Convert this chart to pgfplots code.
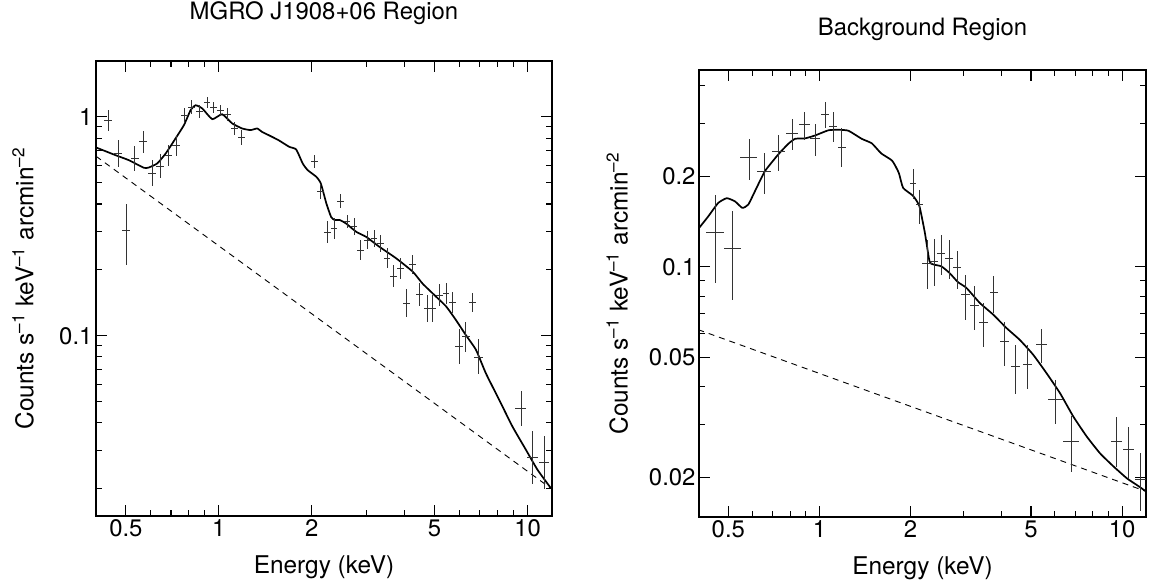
\documentclass[border=0pt]{standalone}
\usepackage{pgfplots}
\pgfplotsset{compat=1.18}
\usepackage{pgfplotstable}
\usepackage{fontspec}
\setmainfont{TeX Gyre Heros}

\pgfplotstableread{
E v ex ep em
0.439 0.959 0.030 0.117 0.105
0.471 0.681 0.030 0.156 0.135
0.501 0.304 0.030 0.310 0.310
0.534 0.646 0.030 0.145 0.126
0.568 0.769 0.030 0.121 0.108
0.607 0.552 0.030 0.145 0.126
0.646 0.596 0.030 0.130 0.115
0.688 0.668 0.028 0.117 0.105
0.728 0.738 0.028 0.112 0.101
0.774 1.018 0.025 0.081 0.075
0.814 1.110 0.025 0.072 0.067
0.866 1.054 0.025 0.072 0.067
0.915 1.163 0.025 0.059 0.056
0.963 1.104 0.025 0.059 0.056
1.013 1.073 0.025 0.059 0.056
1.065 1.025 0.025 0.067 0.062
1.124 0.885 0.025 0.072 0.067
1.182 0.805 0.025 0.084 0.077
2.04 0.623 0.025 0.072 0.067
2.14 0.455 0.025 0.081 0.075
2.25 0.298 0.025 0.122 0.109
2.36 0.309 0.025 0.112 0.101
2.48 0.413 0.025 0.081 0.075
2.60 0.332 0.025 0.072 0.067
2.74 0.315 0.025 0.096 0.088
2.87 0.246 0.025 0.114 0.102
3.02 0.274 0.025 0.104 0.094
3.18 0.278 0.025 0.091 0.084
3.34 0.264 0.025 0.096 0.088
3.51 0.226 0.025 0.112 0.101
3.68 0.187 0.025 0.122 0.109
3.87 0.203 0.025 0.114 0.102
4.06 0.141 0.025 0.161 0.139
4.25 0.211 0.025 0.104 0.094
4.46 0.154 0.025 0.127 0.113
4.72 0.133 0.025 0.148 0.129
4.93 0.133 0.025 0.148 0.129
5.18 0.153 0.025 0.122 0.109
5.45 0.156 0.025 0.114 0.102
5.72 0.142 0.025 0.112 0.101
6.01 0.089 0.030 0.202 0.168
6.31 0.099 0.030 0.169 0.145
6.64 0.142 0.025 0.102 0.092
6.94 0.080 0.030 0.202 0.168
9.52 0.0463 0.040 0.202 0.168
10.4 0.0277 0.040 0.318 0.241
11.3 0.0263 0.035 0.318 0.241
}\srcdata

\pgfplotstableread{
E v
0.400 0.725
0.463 0.668
0.511 0.634
0.572 0.585
0.593 0.587
0.632 0.613
0.673 0.681
0.724 0.797
0.771 0.917
0.810 1.073
0.841 1.130
0.884 1.092
0.952 0.976
1.025 1.028
1.105 0.933
1.190 0.885
1.267 0.870
1.331 0.885
1.380 0.854
1.450 0.825
1.560 0.783
1.690 0.730
1.780 0.710
1.870 0.612
1.940 0.571
2.070 0.532
2.140 0.496
2.230 0.402
2.310 0.349
2.370 0.338
2.460 0.338
2.580 0.326
2.790 0.298
3.000 0.283
3.310 0.255
3.750 0.226
4.250 0.196
4.570 0.173
5.050 0.151
5.450 0.136
5.860 0.118
6.310 0.1007
6.810 0.0861
7.330 0.0673
8.100 0.0508
8.940 0.0384
9.880 0.0301
10.77 0.0244
11.90 0.0201
}\srcmodel

\pgfplotstableread{
E v
0.400 0.661
12.0 0.0199
}\srcpl

\pgfplotstableread{
E v ex ep em
0.452 0.130 0.070 0.33 0.32
0.516 0.1156 0.065 0.33 0.33
0.585 0.231 0.065 0.15 0.16
0.658 0.208 0.055 0.15 0.16
0.732 0.242 0.050 0.13 0.14
0.814 0.277 0.045 0.12 0.12
0.892 0.297 0.040 0.10 0.11
0.968 0.266 0.035 0.12 0.12
1.044 0.321 0.030 0.10 0.10
1.113 0.292 0.030 0.12 0.11
1.186 0.250 0.030 0.16 0.14
2.04 0.189 0.025 0.12 0.11
2.14 0.161 0.025 0.12 0.14
2.27 0.103 0.035 0.19 0.18
2.39 0.1045 0.030 0.18 0.17
2.53 0.111 0.030 0.15 0.15
2.68 0.107 0.030 0.15 0.15
2.85 0.0993 0.030 0.14 0.15
3.04 0.081 0.032 0.16 0.18
3.26 0.0745 0.032 0.16 0.17
3.49 0.0652 0.032 0.16 0.17
3.77 0.082 0.032 0.14 0.14
4.08 0.0566 0.035 0.16 0.17
4.44 0.0468 0.035 0.18 0.19
4.87 0.0474 0.035 0.16 0.17
5.42 0.0552 0.040 0.13 0.13
6.03 0.0364 0.055 0.16 0.17
6.78 0.0264 0.060 0.21 0.21
9.60 0.0264 0.045 0.20 0.18
10.5 0.0248 0.040 0.19 0.20
11.5 0.0198 0.040 0.22 0.22
}\bkgdata

\pgfplotstableread{
E v
0.398 0.1337
0.429 0.147
0.463 0.163
0.494 0.169
0.526 0.165
0.556 0.157
0.582 0.161
0.620 0.183
0.661 0.208
0.731 0.236
0.789 0.256
0.831 0.266
0.897 0.267
0.968 0.273
1.071 0.284
1.156 0.285
1.247 0.283
1.380 0.266
1.490 0.257
1.600 0.238
1.740 0.225
1.830 0.205
1.890 0.183
2.040 0.172
2.140 0.159
2.230 0.130
2.310 0.1045
2.370 0.102
2.530 0.1004
2.690 0.0955
2.870 0.089
3.060 0.0852
3.390 0.0759
3.750 0.0695
4.150 0.0627
4.590 0.0573
5.080 0.0512
5.630 0.0444
6.240 0.0381
6.900 0.0319
7.640 0.0274
8.450 0.0241
9.360 0.0218
10.37 0.0199
11.19 0.0189
12.00 0.0180
}\bkgmodel

\pgfplotstableread{
E v
0.398 0.0619
12.0 0.0180
}\bkgpl

\begin{document}
\begin{tikzpicture}
\path[use as bounding box] (0,0) rectangle (1151bp,-588bp);
\begin{axis}[at={(96bp,-61bp)}, anchor=north west, scale only axis, width=456bp, height=455bp,
  xmode=log, ymode=log,
  xmin=0.4, xmax=12, ymin=0.015, ymax=1.8,
  axis line style={line width=1.4bp},
  tick style={line width=1.1bp, black},
  major tick length=11bp, minor tick length=6bp,
  tick align=inside,
  xtick={1,10}, xticklabels={1,10},
  minor xtick={0.5,0.6,0.7,0.8,0.9,2,3,4,5,6,7,8,9},
  extra x ticks={0.5,2,5}, extra x tick labels={0.5,2,5},
  ytick={0.1,1}, yticklabels={0.1,1},
  minor ytick={0.02,0.03,0.04,0.05,0.06,0.07,0.08,0.09,0.2,0.3,0.4,0.5,0.6,0.7,0.8,0.9},
  ticklabel style={font=\fontsize{24}{24}\selectfont},
  xlabel={Energy (keV)},
  ylabel={Counts s\textsuperscript{–1} keV\textsuperscript{–1} arcmin\textsuperscript{–2}},
  xlabel style={font=\fontsize{24.5}{25}\selectfont, at={(0.5,-0.112)}, anchor=center},
  ylabel style={font=\fontsize{24.5}{25}\selectfont, at={(-0.160,0.5)}, anchor=center},
  title={MGRO J1908+06 Region},
  every axis title shift=0pt,
  title style={font=\fontsize{24}{25}\selectfont, inner sep=0pt, at={(0.5,1.105)}, anchor=center}]
\addplot[black, line width=0.9bp, dash pattern=on 6bp off 5bp, mark=none] table[x=E,y=v]{\srcpl};
\addplot[black, line width=1.7bp, smooth, tension=0.3, mark=none] table[x=E,y=v]{\srcmodel};
\addplot[draw=none, mark=none,
  error bars/x dir=both, error bars/x explicit relative,
  error bars/y dir=both, error bars/y explicit relative,
  error bars/error mark=none,
  error bars/error bar style={draw=black!80, line width=0.8bp}]
  table[x=E,y=v,x error=ex,y error plus=ep,y error minus=em]{\srcdata};
\end{axis}
\begin{axis}[at={(699bp,-70bp)}, anchor=north west, scale only axis, width=447bp, height=447bp,
  xmode=log, ymode=log,
  xmin=0.4, xmax=12, ymin=0.0148, ymax=0.45,
  axis line style={line width=1.4bp},
  tick style={line width=1.1bp, black},
  major tick length=11bp, minor tick length=6bp,
  tick align=inside,
  xtick={1,10}, xticklabels={1,10},
  minor xtick={0.5,0.6,0.7,0.8,0.9,2,3,4,5,6,7,8,9},
  extra x ticks={0.5,2,5}, extra x tick labels={0.5,2,5},
  ytick={0.1}, yticklabels={0.1},
  minor ytick={0.02,0.03,0.04,0.05,0.06,0.07,0.08,0.09,0.2,0.3,0.4},
  extra y ticks={0.02,0.05,0.2}, extra y tick labels={0.02,0.05,0.2},
  ticklabel style={font=\fontsize{24}{24}\selectfont},
  xlabel={Energy (keV)},
  ylabel={Counts s\textsuperscript{–1} keV\textsuperscript{–1} arcmin\textsuperscript{–2}},
  xlabel style={font=\fontsize{24.5}{25}\selectfont, at={(0.5,-0.114)}, anchor=center},
  ylabel style={font=\fontsize{24.5}{25}\selectfont, at={(-0.183,0.5)}, anchor=center},
  title={Background Region},
  every axis title shift=0pt,
  title style={font=\fontsize{24}{25}\selectfont, inner sep=0pt, at={(0.5,1.091)}, anchor=center}]
\addplot[black, line width=0.9bp, dash pattern=on 6bp off 5bp, mark=none] table[x=E,y=v]{\bkgpl};
\addplot[black, line width=1.7bp, smooth, tension=0.3, mark=none] table[x=E,y=v]{\bkgmodel};
\addplot[draw=none, mark=none,
  error bars/x dir=both, error bars/x explicit relative,
  error bars/y dir=both, error bars/y explicit relative,
  error bars/error mark=none,
  error bars/error bar style={draw=black!80, line width=0.8bp}]
  table[x=E,y=v,x error=ex,y error plus=ep,y error minus=em]{\bkgdata};
\end{axis}
\end{tikzpicture}
\end{document}
